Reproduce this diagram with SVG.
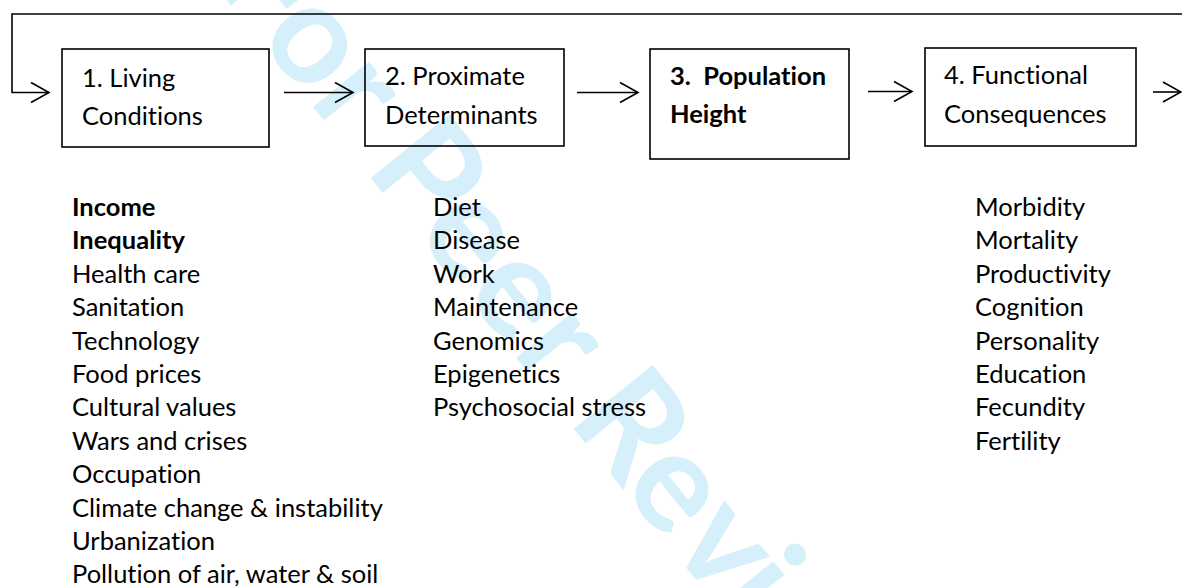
<svg xmlns="http://www.w3.org/2000/svg" width="1182" height="588" viewBox="0 0 1182 588">
<defs>
<style>
.t{font-family:Lato,"Open Sans","Liberation Sans",sans-serif;font-size:25.5px;fill:#000;font-variant-ligatures:none}
.b{font-weight:bold}
.box{fill:none;stroke:#000;stroke-width:1.6}
.ln{fill:none;stroke:#000;stroke-width:1.6}
.wm{font-family:Lato,"Open Sans",sans-serif;font-size:140px;font-weight:bold;fill:#d5effb;font-variant-ligatures:none}
</style>
<marker id="ah" markerUnits="userSpaceOnUse" markerWidth="24" markerHeight="24" viewBox="-20 -12 24 24" refX="0" refY="0" orient="auto">
<path d="M-18,-10 L0,0 L-18,10" fill="none" stroke="#000" stroke-width="1.6"/>
</marker>
</defs>
<rect width="1182" height="588" fill="#fff"/>
<text class="wm" transform="translate(212,-18) rotate(51)" y="0" x="0 70.9 152.3 206.2 241.1 321 398 474.9 528.8 563.7 647.6 724.5 794.3 829.7 906.6">For Peer Review</text>
<g id="connectors">
<polyline class="ln" points="1182,14 12,14 12,92.5 49,92.5" marker-end="url(#ah)"/>
<line class="ln" x1="284" y1="92.5" x2="353" y2="92.5" marker-end="url(#ah)"/>
<line class="ln" x1="577" y1="92.5" x2="638" y2="92.5" marker-end="url(#ah)"/>
<line class="ln" x1="868" y1="91.5" x2="912" y2="91.5" marker-end="url(#ah)"/>
<line class="ln" x1="1153" y1="92" x2="1181" y2="92" marker-end="url(#ah)"/>
</g>
<g id="node1">
<rect class="box" x="62" y="49" width="207" height="98"/>
<text class="t" x="82" y="87">1. Living</text>
<text class="t" x="82" y="125">Conditions</text>
</g>
<g id="node2">
<rect class="box" x="365" y="49" width="199" height="97"/>
<text class="t" x="385" y="85">2. Proximate</text>
<text class="t" x="385" y="124">Determinants</text>
</g>
<g id="node3">
<rect class="box" x="650" y="49" width="199" height="110"/>
<text class="t b" x="670" y="85" xml:space="preserve">3.  Population</text>
<text class="t b" x="670" y="123">Height</text>
</g>
<g id="node4">
<rect class="box" x="925" y="48" width="211" height="98"/>
<text class="t" x="944" y="84">4. Functional</text>
<text class="t" x="944" y="123">Consequences</text>
</g>
<g id="list1">
<text class="t b" x="72" y="216">Income</text>
<text class="t b" x="72" y="249.4">Inequality</text>
<text class="t" x="72" y="282.8">Health care</text>
<text class="t" x="72" y="316.2">Sanitation</text>
<text class="t" x="72" y="349.6">Technology</text>
<text class="t" x="72" y="383">Food prices</text>
<text class="t" x="72" y="416.4">Cultural values</text>
<text class="t" x="72" y="449.8">Wars and crises</text>
<text class="t" x="72" y="483.2">Occupation</text>
<text class="t" x="72" y="516.6">Climate change &amp; instability</text>
<text class="t" x="72" y="550">Urbanization</text>
<text class="t" x="72" y="583.4">Pollution of air, water &amp; soil</text>
</g>
<g id="list2">
<text class="t" x="433" y="216">Diet</text>
<text class="t" x="433" y="249.4">Disease</text>
<text class="t" x="433" y="282.8">Work</text>
<text class="t" x="433" y="316.2">Maintenance</text>
<text class="t" x="433" y="349.6">Genomics</text>
<text class="t" x="433" y="383">Epigenetics</text>
<text class="t" x="433" y="416.4">Psychosocial stress</text>
</g>
<g id="list3">
<text class="t" x="975" y="216">Morbidity</text>
<text class="t" x="975" y="249.4">Mortality</text>
<text class="t" x="975" y="282.8">Productivity</text>
<text class="t" x="975" y="316.2">Cognition</text>
<text class="t" x="975" y="349.6">Personality</text>
<text class="t" x="975" y="383">Education</text>
<text class="t" x="975" y="416.4">Fecundity</text>
<text class="t" x="975" y="449.8">Fertility</text>
</g>
</svg>
